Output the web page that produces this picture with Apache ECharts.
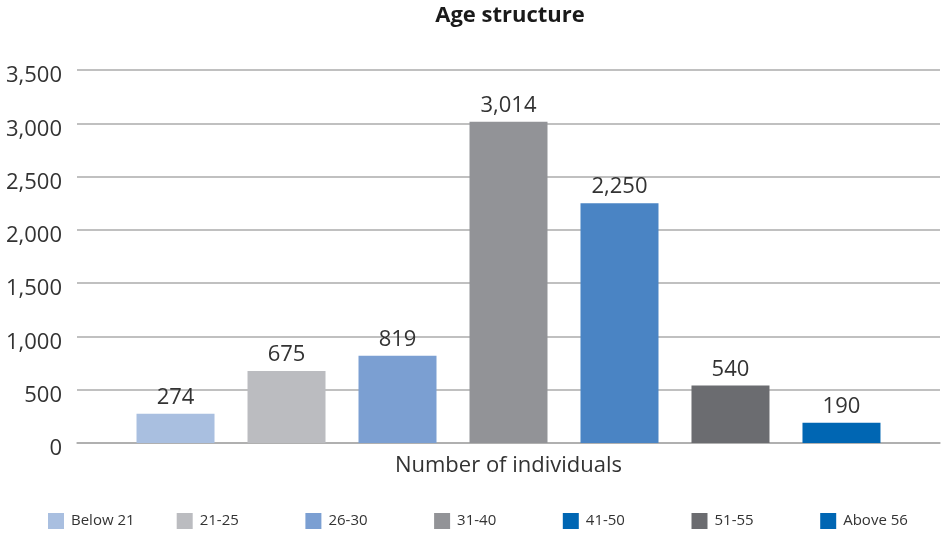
<!DOCTYPE html>
<html>
<head>
<meta charset="utf-8">
<script src="https://cdn.jsdelivr.net/npm/echarts@6/dist/echarts.min.js"></script>
<style>
html, body { margin: 0; padding: 0; background: #fff; }
#chart { width: 943px; height: 533px; }
</style>
</head>
<body>
<div id="chart"></div>
<script>
var groups = ['Below 21', '21-25', '26-30', '31-40', '41-50', '51-55', 'Above 56'];
var counts = [274, 675, 819, 3014, 2250, 540, 190];
var barColors = ['#A9BFE0', '#BBBCC0', '#7B9FD2', '#929397', '#4A84C4', '#6B6C70', '#0066B3'];
// legend swatches in the original (41-50 shows the dark blue)
var legendColors = ['#A9BFE0', '#BBBCC0', '#7B9FD2', '#929397', '#0066B3', '#6B6C70', '#0066B3'];
var category = ['Number of individuals'];
var yTicks = { min: 0, max: 3500, interval: 500 };

var font = '"Open Sans", "Noto Sans", sans-serif';

var series = [];
for (var i = 0; i < groups.length; i++) {
    series.push({
        name: groups[i],
        type: 'bar',
        data: [counts[i]],
        barWidth: 78,
        barGap: '42.3%',
        itemStyle: { color: barColors[i] },
        label: {
            show: true,
            position: 'top',
            distance: 5,
            color: '#333',
            fontFamily: font,
            fontSize: 22,
            formatter: function (p) {
                return p.value.toLocaleString('en-US');
            }
        }
    });
}

// one legend per item so the swatches sit on an even pitch
var legends = [];
for (var j = 0; j < groups.length; j++) {
    legends.push({
        data: [{ name: groups[j], itemStyle: { color: legendColors[j] } }],
        left: 48 + j * 128.7,
        top: 513,
        padding: 0,
        itemWidth: 16,
        itemHeight: 16,
        icon: 'rect',
        selectedMode: false,
        textStyle: { fontFamily: font, fontSize: 15, color: '#333', padding: [0, 0, 0, 2] }
    });
}

var myChart = echarts.init(document.getElementById('chart'));
var option = {
    backgroundColor: '#fff',
    animation: false,
    title: {
        text: 'Age structure',
        left: 505,
        textAlign: 'center',
        top: 0,
        textStyle: { fontFamily: font, fontSize: 22, fontWeight: 'bold', color: '#1a1a1a' }
    },
    legend: legends,
    grid: { left: 77, right: 3, top: 70, bottom: 90 },
    xAxis: {
        type: 'category',
        data: category,
        axisLine: { lineStyle: { color: '#ABABAB', width: 1.5 } },
        axisTick: { show: false },
        axisLabel: { fontFamily: font, fontSize: 22, color: '#333', margin: 12 }
    },
    yAxis: {
        type: 'value',
        min: yTicks.min,
        max: yTicks.max,
        interval: yTicks.interval,
        axisLine: { show: false },
        axisTick: { show: false },
        splitLine: { lineStyle: { color: '#ABABAB', width: 1.5 } },
        axisLabel: {
            fontFamily: font, fontSize: 22, color: '#333', margin: 15,
            verticalAlign: 'top',
            lineHeight: 12,
            formatter: function (v) { return v.toLocaleString('en-US'); }
        }
    },
    series: series
};
myChart.setOption(option);
</script>
</body>
</html>
